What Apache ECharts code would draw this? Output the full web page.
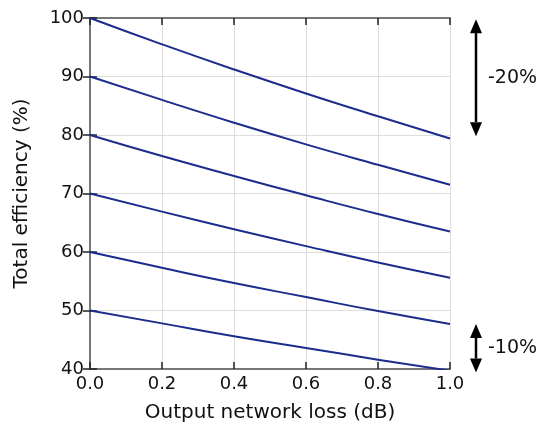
<!DOCTYPE html>
<html style="height: 100%">
<head>
    <meta charset="utf-8">
    <title>Total efficiency</title>
</head>
<body style="height: 100%; margin: 0">
<div id="container" style="width: 541px; height: 433px"></div>
<script type="text/javascript" src="https://cdn.jsdelivr.net/npm/echarts@6/dist/echarts.min.js"></script>
<script type="text/javascript">
    // x positions and efficiency, one array per line
    var loss = [0, 0.2, 0.4, 0.6, 0.8, 1.0];
    var eff100 = [100, 95.5, 91.2, 87.1, 83.2, 79.4];
    var eff90 = [90, 86.0, 82.1, 78.4, 74.9, 71.5];
    var eff80 = [80, 76.4, 73.0, 69.7, 66.5, 63.5];
    var eff70 = [70, 66.9, 63.9, 61.0, 58.2, 55.6];
    var eff60 = [60, 57.3, 54.7, 52.3, 49.9, 47.7];
    var eff50 = [50, 47.8, 45.6, 43.6, 41.6, 39.7];
    var allLines = [eff100, eff90, eff80, eff70, eff60, eff50];

    var dom = document.getElementById("container");
    var myChart = echarts.init(dom);
    var font = 'DejaVu Sans';
    var frame = '#777';

    var series = allLines.map(function (vals) {
        return {
            type: 'line',
            xAxisIndex: 0,
            yAxisIndex: 0,
            data: loss.map(function (x, i) { return [x, vals[i]]; }),
            showSymbol: false,
            smooth: true,
            lineStyle: {color: '#1c2c8c', width: 2},
            silent: true
        };
    });

    var option = {
        animation: false,
        grid: {left: 90, right: 91, top: 18, bottom: 64},
        xAxis: [{
            type: 'value', min: 0, max: 1, interval: 0.2,
            name: 'Output network loss (dB)', nameLocation: 'middle', nameGap: 34,
            nameTextStyle: {fontFamily: font, fontSize: 20, color: '#111'},
            axisLine: {lineStyle: {color: frame, width: 2}},
            axisTick: {inside: true, length: 7, lineStyle: {color: '#222', width: 1.5}},
            axisLabel: {fontFamily: font, fontSize: 18, color: '#111', margin: 6,
                formatter: function (v) { return v.toFixed(1); }},
            splitLine: {show: true, lineStyle: {color: '#ddd'}}
        }, {
            type: 'value', min: 0, max: 1, interval: 0.2, position: 'top',
            axisLine: {show: true, lineStyle: {color: frame, width: 2}},
            axisTick: {show: true, inside: true, length: 7, lineStyle: {color: '#222', width: 1.5}},
            axisLabel: {show: false}, splitLine: {show: false}
        }],
        yAxis: [{
            type: 'value', min: 40, max: 100, interval: 10,
            name: 'Total efficiency (%)', nameLocation: 'middle', nameGap: 58,
            nameTextStyle: {fontFamily: font, fontSize: 20, color: '#111'},
            axisLine: {show: true, lineStyle: {color: frame, width: 2}},
            axisTick: {show: true, inside: true, length: 7, lineStyle: {color: '#222', width: 1.5}},
            axisLabel: {fontFamily: font, fontSize: 18, color: '#111', margin: 6},
            splitLine: {show: true, lineStyle: {color: '#ddd'}}
        }, {
            type: 'value', min: 40, max: 100, interval: 10, position: 'right',
            axisLine: {show: true, lineStyle: {color: frame, width: 2}},
            axisTick: {show: true, inside: true, length: 7, lineStyle: {color: '#222', width: 1.5}},
            axisLabel: {show: false}, splitLine: {show: false}
        }],
        series: series
    };
    myChart.setOption(option, true);

    // double-headed arrows at the right, placed with the y scale
    function arrow(x, v1, v2, label) {
        var y1 = myChart.convertToPixel({yAxisIndex: 0}, v1);
        var y2 = myChart.convertToPixel({yAxisIndex: 0}, v2);
        var hw = 6, hh = 14;
        return [
            {type: 'line', shape: {x1: x, y1: y1 + hh, x2: x, y2: y2 - hh},
                style: {stroke: '#000', lineWidth: 2.5}},
            {type: 'polygon', shape: {points: [[x, y1], [x - hw, y1 + hh], [x + hw, y1 + hh]]},
                style: {fill: '#000'}},
            {type: 'polygon', shape: {points: [[x, y2], [x - hw, y2 - hh], [x + hw, y2 - hh]]},
                style: {fill: '#000'}},
            {type: 'text', x: x + 12, y: (y1 + y2) / 2,
                style: {text: label, fontFamily: font, fontSize: 19, fill: '#111', verticalAlign: 'middle'}}
        ];
    }
    myChart.setOption({
        graphic: arrow(476, 99.8, 79.8, '-20%').concat(arrow(476, 47.7, 39.4, '-10%'))
    });
</script>
</body>
</html>
